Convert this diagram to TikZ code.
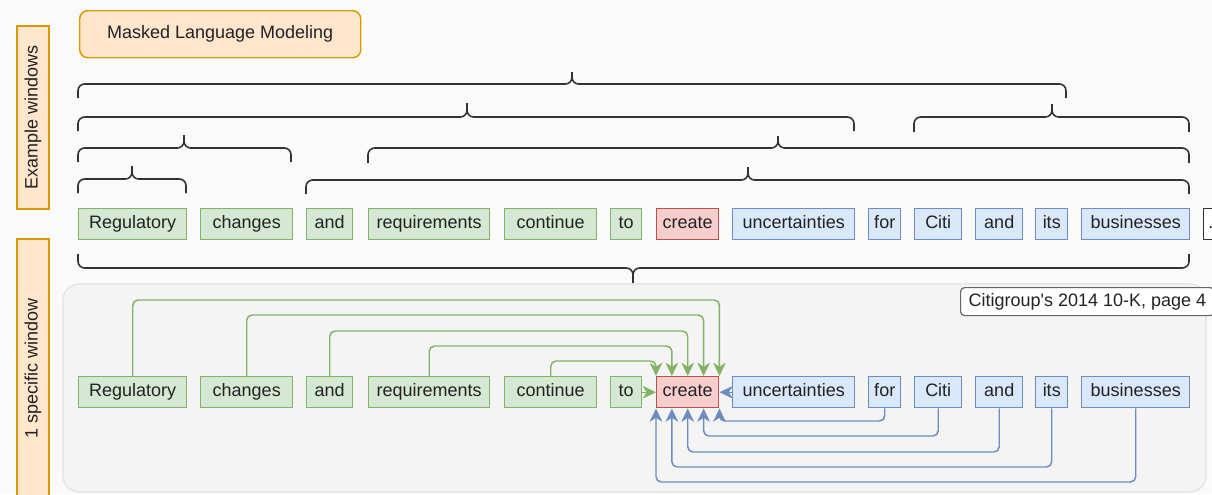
\documentclass[tikz,border=0pt]{standalone}
\usepackage{fontspec}
\setmainfont{Liberation Sans}[Ligatures=TeXOff]
\usetikzlibrary{calc,arrows.meta}

\definecolor{gfill}{HTML}{D5E8D4}\definecolor{gline}{HTML}{82B366}
\definecolor{rfill}{HTML}{F8CECC}\definecolor{rline}{HTML}{B85450}
\definecolor{bfill}{HTML}{DAE8FC}\definecolor{bline}{HTML}{6C8EBF}
\definecolor{ofill}{HTML}{FFE6CC}\definecolor{oline}{HTML}{D79B00}
\definecolor{bgcol}{HTML}{FAFAFA}\definecolor{panelcol}{HTML}{F4F4F4}
\definecolor{panelline}{HTML}{E2E2E2}\definecolor{ink}{HTML}{222222}
\definecolor{bracecol}{HTML}{333333}\definecolor{tagline}{HTML}{666666}

% horizontal curly brace: x1, x2, tip x, line y, end y, tip y
\newcommand\hbrace[6]{%
  \draw[bracestyle] (#1,#5) |- (#3,#4) -- (#3,#6) (#3,#6) -- (#3,#4) -| (#2,#5);}

\begin{document}
\begin{tikzpicture}[x=0.75pt,y=-0.75pt,
  font=\fontsize{13.5}{16}\selectfont, text=ink,
  tok/.style={draw, line width=1.1pt, anchor=north west, inner sep=0pt,
    minimum height=31*0.75pt, text height=10pt, text depth=3pt},
  wd/.style={minimum width=#1*0.75pt},
  gtok/.style={tok, fill=gfill, draw=gline},
  rtok/.style={tok, fill=rfill, draw=rline},
  btok/.style={tok, fill=bfill, draw=bline},
  otok/.style={tok, fill=white, draw=bracecol},
  sidelabel/.style={draw=oline, fill=ofill, line width=1.1pt, rotate=90,
    minimum height=32*0.75pt, inner sep=0pt},
  bracestyle/.style={draw=bracecol, line width=1.2pt, rounded corners=5pt},
  tip/.style={-{Stealth[length=10pt,width=9.5pt,inset=3pt]}},
  gcon/.style={tip, draw=gline, line width=1.1pt, rounded corners=4pt},
  bcon/.style={tip, draw=bline, line width=1.1pt, rounded corners=4pt}]

\useasboundingbox (0,0) rectangle (1212,494);
\fill[bgcol] (0,0) rectangle (1212,494);

% side labels
\node[sidelabel, minimum width=183*0.75pt] (ex) at (33,117.5) {Example windows};
\node[sidelabel, minimum width=258*0.75pt] (one) at (33,368) {1 specific window};

% title
\node[draw=oline, fill=ofill, line width=1.1pt, rounded corners=6pt, anchor=north west,
  minimum width=281*0.75pt, minimum height=47*0.75pt, inner sep=0pt] (mlm) at (79,10)
  {Masked Language Modeling};

% braces over the example windows
\hbrace{78}{1066}{572}{84}{98}{72}
\hbrace{78}{854}{467}{117}{131}{103}
\hbrace{914}{1189}{1052}{117}{132}{104}
\hbrace{78}{291}{184}{148}{162}{135}
\hbrace{368}{1189}{778}{148}{163}{136}
\hbrace{78}{186}{132}{179}{193}{166}
\hbrace{306}{1189}{748}{180}{194}{167}
% brace below the sentence
\hbrace{78}{1189}{633}{268}{254}{283}

% sentence row
\node[gtok, wd=108] (t1) at (78,208) {Regulatory};
\node[gtok, wd=92]  (t2) at (200,208) {changes};
\node[gtok, wd=46]  (t3) at (306,208) {and};
\node[gtok, wd=121] (t4) at (368,208) {requirements};
\node[gtok, wd=92]  (t5) at (504,208) {continue};
\node[gtok, wd=31]  (t6) at (610,208) {to};
\node[rtok, wd=62]  (t7) at (656,208) {create};
\node[btok, wd=122] (t8) at (732,208) {uncertainties};
\node[btok, wd=32]  (t9) at (868,208) {for};
\node[btok, wd=47]  (t10) at (914,208) {Citi};
\node[btok, wd=47]  (t11) at (975,208) {and};
\node[btok, wd=32]  (t12) at (1035,208) {its};
\node[btok, wd=108] (t13) at (1081,208) {businesses};
\node[otok, inner xsep=3.5pt] (t14) at (1203,208) {...};

% one window panel
\filldraw[fill=panelcol, draw=panelline, line width=0.8pt, rounded corners=12pt]
  (63,284) rectangle (1206,492);
\node[draw=tagline, fill=white, line width=0.9pt, rounded corners=3pt, anchor=north west,
  minimum height=28*0.75pt, inner xsep=6pt, inner ysep=0pt, text height=10pt, text depth=3pt]
  (src) at (960,287) {Citigroup's 2014 10-K, page 4};

\node[gtok, wd=108] (b1) at (78,376) {Regulatory};
\node[gtok, wd=92]  (b2) at (200,376) {changes};
\node[gtok, wd=46]  (b3) at (306,376) {and};
\node[gtok, wd=121] (b4) at (368,376) {requirements};
\node[gtok, wd=92]  (b5) at (504,376) {continue};
\node[gtok, wd=31]  (b6) at (610,376) {to};
\node[rtok, wd=62]  (b7) at (656,376) {create};
\node[btok, wd=122] (b8) at (732,376) {uncertainties};
\node[btok, wd=32]  (b9) at (868,376) {for};
\node[btok, wd=47]  (b10) at (914,376) {Citi};
\node[btok, wd=47]  (b11) at (975,376) {and};
\node[btok, wd=32]  (b12) at (1035,376) {its};
\node[btok, wd=108] (b13) at (1081,376) {businesses};

% left context into the masked word
\draw[gcon] (b1.north) -- (b1.north |- 0,300) -| ($(b7.north west)!1!(b7.north east)$);
\draw[gcon] (b2.north) -- (b2.north |- 0,315) -| ($(b7.north west)!0.75!(b7.north east)$);
\draw[gcon] (b3.north) -- (b3.north |- 0,331) -| ($(b7.north west)!0.5!(b7.north east)$);
\draw[gcon] (b4.north) -- (b4.north |- 0,346) -| ($(b7.north west)!0.25!(b7.north east)$);
\draw[gcon] (b5.north) -- (b5.north |- 0,361) -| ($(b7.north west)!0!(b7.north east)$);
\draw[gcon] (b6.east) -- (b7.west);

% right context into the masked word
\draw[bcon] (b8.west) -- (b7.east);
\draw[bcon] (b9.south) -- (b9.south |- 0,421) -| ($(b7.south west)!1!(b7.south east)$);
\draw[bcon] (b10.south) -- (b10.south |- 0,436) -| ($(b7.south west)!0.75!(b7.south east)$);
\draw[bcon] (b11.south) -- (b11.south |- 0,452) -| ($(b7.south west)!0.5!(b7.south east)$);
\draw[bcon] (b12.south) -- (b12.south |- 0,467) -| ($(b7.south west)!0.25!(b7.south east)$);
\draw[bcon] (b13.south) -- (b13.south |- 0,482) -| ($(b7.south west)!0!(b7.south east)$);
\end{tikzpicture}
\end{document}
